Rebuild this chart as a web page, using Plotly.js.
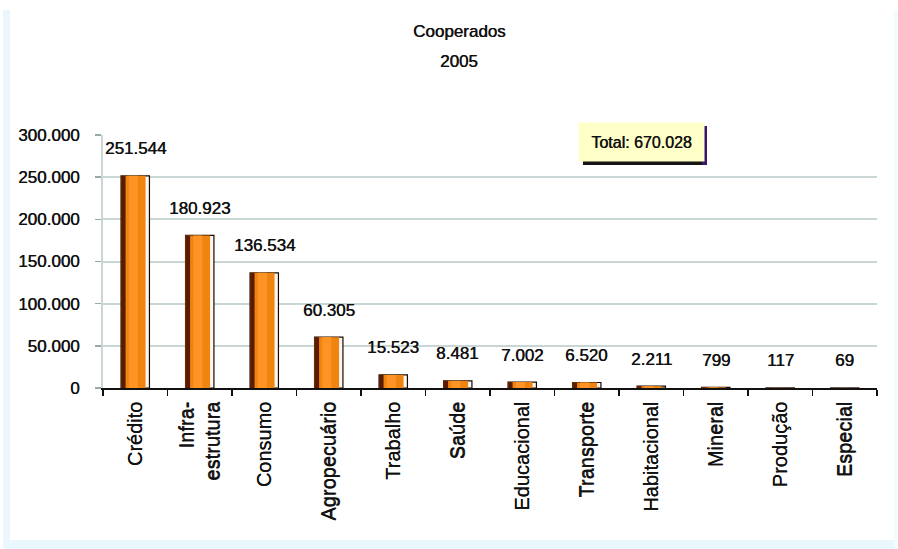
<!DOCTYPE html>
<html>
<head>
<meta charset="utf-8">
<script src="https://cdn.plot.ly/plotly-3.0.1.min.js"></script>
<style>html,body{margin:0;padding:0;background:#fff;}#chart{width:898px;height:549px;}</style>
</head>
<body>
<div id="chart"></div>
<script>
const categories = ['Crédito','Infra-<br>estrutura','Consumo','Agropecuário','Trabalho','Saúde','Educacional','Transporte','Habitacional','Mineral','Produção','Especial'];
const values = [251544, 180923, 136534, 60305, 15523, 8481, 7002, 6520, 2211, 799, 117, 69];
const titleLine1 = 'Cooperados';
const titleLine2 = '2005';
const totalLabel = 'Total: 670.028';
const yTicks = [0, 50000, 100000, 150000, 200000, 250000, 300000];

function fmt(v){ return String(v).replace(/\B(?=(\d{3})+(?!\d))/g, '.'); }

// plot area in pixels
const L = 103, R = 877, T = 135, B = 388;
const W = 898, H = 549;
const px = x => (x - L) / (R - L);
const py = y => (B - y) / (B - T);

const FONT = 'Liberation Sans, Arial, sans-serif';
const SH = '0.45px 0 0 #111';

const traces = [
  {type:'bar', x:categories, y:values, offset:-0.22, width:0.44,
   marker:{color:'#fbf7f0', line:{color:'#1a0800', width:1.2}}, hoverinfo:'skip'},
  {type:'bar', x:categories, y:values, offset:-0.22, width:0.38,
   marker:{color:'#f08410', line:{width:0}}, hoverinfo:'skip'},
  {type:'bar', x:categories, y:values, offset:-0.10, width:0.14,
   marker:{color:'#ff9426', line:{width:0}}, hoverinfo:'skip'},
  {type:'bar', x:categories, y:values, offset:-0.22, width:0.07,
   marker:{color:'#5a1c00', line:{width:0}}, hoverinfo:'skip'}
];

const annotations = values.map((v, i) => ({
  x: categories[i], y: v, xref:'x', yref:'y', text: fmt(v), showarrow:false,
  yshift: 27, yanchor:'middle', font:{family:FONT, size:17, color:'#111', shadow:SH}
}));
annotations.push({xref:'paper', yref:'paper', x:px(459), y:py(32), text:titleLine1, showarrow:false,
  xanchor:'center', yanchor:'middle', font:{family:FONT, size:17, color:'#111', shadow:SH}});
annotations.push({xref:'paper', yref:'paper', x:px(459), y:py(62), text:titleLine2, showarrow:false,
  xanchor:'center', yanchor:'middle', font:{family:FONT, size:17, color:'#111', shadow:SH}});
annotations.push({xref:'paper', yref:'paper', x:px(641), y:py(142), text:totalLabel, showarrow:false,
  xanchor:'center', yanchor:'middle', width:125, height:38, bgcolor:'#ffffc8', borderpad:0,
  font:{family:FONT, size:16, color:'#111', shadow:SH}});

const shapes = [
  // light cyan frame
  {type:'rect', xref:'paper', yref:'paper', x0:px(3), x1:px(10), y0:py(549), y1:py(10), fillcolor:'#eaf8fd', line:{width:0}, layer:'below'},
  {type:'rect', xref:'paper', yref:'paper', x0:px(3), x1:px(898), y0:py(549), y1:py(540), fillcolor:'#eaf8fd', line:{width:0}, layer:'below'},
  {type:'rect', xref:'paper', yref:'paper', x0:px(894), x1:px(898), y0:py(549), y1:py(10), fillcolor:'#f2fbfe', line:{width:0}, layer:'below'},
  // shadow of total box
  {type:'rect', xref:'paper', yref:'paper', x0:px(583), x1:px(707), y0:py(165), y1:py(160), fillcolor:'#151515', line:{width:0}, layer:'above'},
  {type:'rect', xref:'paper', yref:'paper', x0:px(702), x1:px(707), y0:py(165), y1:py(126), fillcolor:'#3a1670', line:{width:0}, layer:'above'}
];

const layout = {
  width: W, height: H,
  margin: {l:L, r:W-R, t:T, b:H-B, pad:0},
  paper_bgcolor:'#ffffff', plot_bgcolor:'#ffffff',
  separators: ',.',
  barmode:'overlay',
  showlegend:false,
  font:{family:FONT, color:'#111'},
  xaxis:{
    type:'category', range:[-0.5, 11.5], showgrid:false, zeroline:false,
    showline:true, linecolor:'#111', linewidth:1.5,
    ticks:'outside', ticklen:6, tickcolor:'#111', tickwidth:1.5, tickson:'boundaries',
    tickangle:-90, tickfont:{family:FONT, size:20, color:'#111', shadow:'0 0.45px 0 #111'}, ticklabelstandoff:4
  },
  yaxis:{
    range:[0, 300000], tickvals:yTicks, ticktext:yTicks.map(fmt),
    showgrid:true, gridcolor:'#c9d6d6', gridwidth:2, zeroline:false,
    showline:true, linecolor:'#c9d6d6', linewidth:2,
    ticks:'outside', ticklen:6, tickcolor:'#9aa8a8', tickwidth:1.5,
    tickfont:{family:FONT, size:17, color:'#111', shadow:SH}, ticklabelstandoff:12
  },
  annotations: annotations,
  shapes: shapes
};

Plotly.newPlot('chart', traces, layout, {displayModeBar:false, staticPlot:true});
</script>
</body>
</html>
